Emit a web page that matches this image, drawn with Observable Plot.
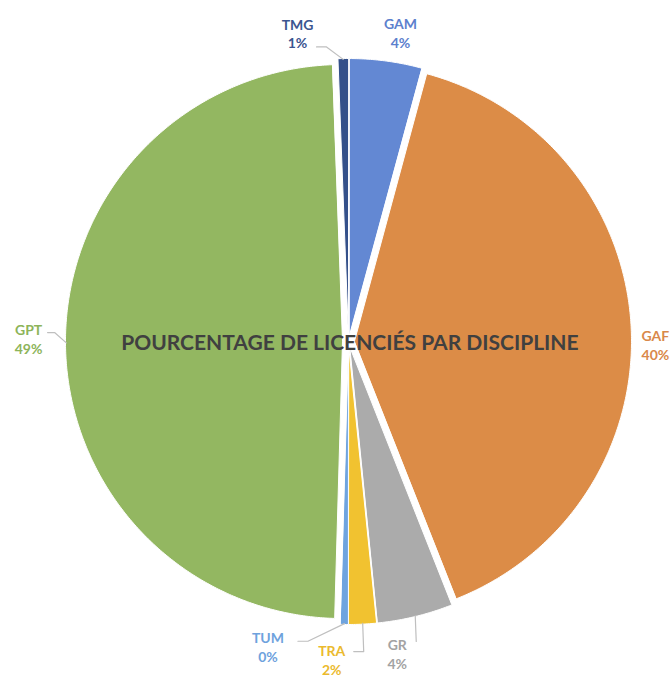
<!DOCTYPE html>
<html><head><meta charset="utf-8">
<script src="https://cdn.jsdelivr.net/npm/d3@7"></script>
<script src="https://cdn.jsdelivr.net/npm/@observablehq/plot@0.6"></script>
<style>body{margin:0;background:#fff}#chart svg{display:block}</style>
</head><body><div id="chart"></div>
<script>
// ---- data ----
const disciplines = ["GAM", "GAF", "GR", "TRA", "TUM", "GPT", "TMG"];
const shares = [4.2, 39.8, 4.4, 1.6, 0.45, 48.95, 0.6];
const sliceColors = ["#6388d3", "#dc8c47", "#ababab", "#f1c230", "#6fa4df", "#93b761", "#34508a"];
const labelColors = ["#5c80cd", "#d9884a", "#a3a3a3", "#ebba2e", "#6ea2dd", "#8db45a", "#3b5590"];
const title = "POURCENTAGE DE LICENCIÉS PAR DISCIPLINE";

// ---- layout ----
const W = 672, H = 681, R = 277, CX = 348, CY = 341;
const EXPLODE = 6 / R;
const deg = Math.PI / 180;
// label placement tweaks (angle nudge in degrees, radius in units of R)
const layout = {
  GAM: {nudge: 2.0, r: 1.131, line: false},
  GAF: {nudge: 3.8, r: 1.108, line: false},
  GR:  {nudge: 4.8, r: 1.140, line: true, dy: -12, elbow: 0, gap: 3},
  TRA: {nudge: 5.9, r: 1.150, line: true, dy: -8, elbow: 10, gap: 6},
  TUM: {nudge: 14,  r: 1.138, line: true, dy: -5, elbow: 10, gap: 14},
  GPT: {nudge: 0.8, r: 1.155, line: true, dy: -6, elbow: 7, gap: 3},
  TMG: {nudge: -8.3, r: 1.129, line: true, dy: 14, elbow: 10, gap: 3}
};

const arcs = d3.pie().sort(null).value(d => d)(shares);
const slices = arcs.map((a, i) => ({
  name: disciplines[i], value: shares[i],
  start: a.startAngle, end: a.endAngle, mid: (a.startAngle + a.endAngle) / 2
}));

// polygon vertices for each (exploded) slice, unit circle, y downward
const verts = [];
for (const s of slices) {
  const ox = EXPLODE * Math.sin(s.mid), oy = -EXPLODE * Math.cos(s.mid);
  verts.push({name: s.name, x: ox, y: oy});
  const n = Math.max(2, Math.ceil((s.end - s.start) / (0.5 * deg)));
  for (let k = 0; k <= n; k++) {
    const t = s.start + (s.end - s.start) * k / n;
    verts.push({name: s.name, x: ox + Math.sin(t), y: oy - Math.cos(t)});
  }
}

// labels
const labels = slices.map((s, i) => {
  const L = layout[s.name];
  const t = s.mid + L.nudge * deg;
  return {
    name: s.name, color: labelColors[i],
    text: s.name + "\n" + Math.round(s.value) + "%",
    x: L.r * Math.sin(t), y: -L.r * Math.cos(t), mid: s.mid
  };
});

// leader lines
const leaders = [];
for (const lb of labels) {
  const L = layout[lb.name];
  if (!L.line) continue;
  const re = 0.997 + EXPLODE;
  const ex = re * Math.sin(lb.mid), ey = -re * Math.cos(lb.mid);
  const side = Math.sign(ex - lb.x);
  const halfW = 16 / R;
  const px = lb.x + side * (halfW + L.gap / R);
  const py = lb.y + L.dy / R;
  leaders.push({name: lb.name, x: px, y: py});
  leaders.push({name: lb.name, x: px + side * L.elbow / R, y: py});
  leaders.push({name: lb.name, x: ex, y: ey});
}

const chart = Plot.plot({
  width: W, height: H, margin: 0,
  style: {background: "#fff"},
  x: {domain: [-CX / R, (W - CX) / R], range: [0, W], axis: null},
  y: {domain: [-CY / R, (H - CY) / R], range: [0, H], axis: null},
  color: {domain: disciplines, range: sliceColors},
  marks: [
    Plot.line(verts, {x: "x", y: "y", z: "name", fill: "name", stroke: "#fff",
      strokeWidth: 1, strokeLinejoin: "miter", curve: "linear-closed"}),
    Plot.line(leaders, {x: "x", y: "y", z: "name", stroke: "#bfbfbf", strokeWidth: 1.2,
      curve: "linear"}),
    Plot.text(labels, {x: "x", y: "y", text: "text", fill: d => d.color,
      fontFamily: "Lato", fontWeight: "bold", fontSize: 14, lineHeight: 1.35, textAnchor: "middle"}),
    Plot.text([title], {x: () => 0.005, y: () => 0.005, text: d => d,
      fill: "#404040", fontFamily: "Lato", fontWeight: "bold", fontSize: 21, textAnchor: "middle"})
  ]
});
document.getElementById("chart").appendChild(chart);
</script>
</body></html>
